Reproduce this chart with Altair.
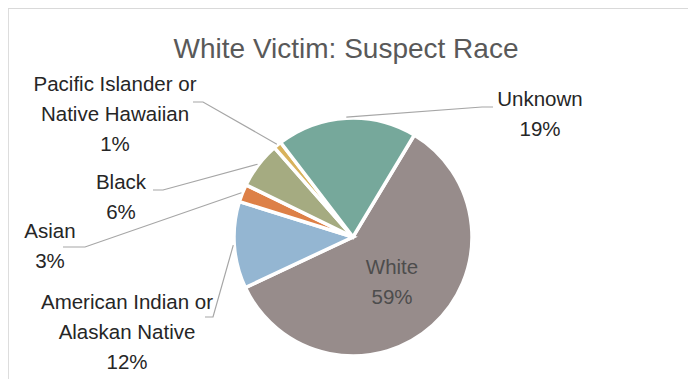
import altair as alt
import pandas as pd
import numpy as np

# ---- data ----
categories = ["White", "American Indian or Alaskan Native", "Asian", "Black",
              "Pacific Islander or Native Hawaiian", "Unknown"]
values = [59.4, 11.8, 2.4, 6.3, 1.1, 19.0]
pct_labels = ["59%", "12%", "3%", "6%", "1%", "19%"]
label_lines = ["White", "American Indian or\nAlaskan Native", "Asian", "Black",
               "Pacific Islander or\nNative Hawaiian", "Unknown"]
colors = ["#978C8B", "#94B6D2", "#DD8047", "#A5AB81", "#D8B25C", "#76A89B"]

# ---- layout ----
W, H = 680, 371
CX, CY, R = 345, 229, 119
START = np.deg2rad(31.0)
FONT = "Liberation Sans, Arial, sans-serif"

# label anchor (centre of first text line) and leader elbow, in chart px
label_pos = {
    "White": (384, 260),
    "American Indian or Alaskan Native": (119, 295),
    "Asian": (42, 224),
    "Black": (113, 175),
    "Pacific Islander or Native Hawaiian": (107, 77),
    "Unknown": (532, 92),
}
elbow = {
    "American Indian or Alaskan Native": [(197, 309), (205, 309)],
    "Asian": [(55, 239), (77, 239)],
    "Black": [(145, 182), (155, 182)],
    "Pacific Islander or Native Hawaiian": [(185, 94), (195, 94)],
    "Unknown": [(485, 99), (474, 99)],
}

df = pd.DataFrame({"cat": categories, "value": values, "order": range(len(categories))})

tot = sum(values)
cum = np.cumsum([0] + values[:-1])
mid = START + 2 * np.pi * (cum + np.array(values) / 2) / tot

# text table
txt_rows = []
for i, c in enumerate(categories):
    x, y = label_pos[c]
    txt_rows.append({"cat": c, "text": label_lines[i] + "\n" + pct_labels[i],
                     "x": x, "y": y, "inside": c == "White"})
tdf = pd.DataFrame(txt_rows)

# leader lines
lrows = []
for i, c in enumerate(categories):
    if c not in elbow:
        continue
    pts = list(elbow[c]) + [(CX + (R + 1) * np.sin(mid[i]), CY - (R + 1) * np.cos(mid[i]))]
    for k, (x, y) in enumerate(pts):
        lrows.append({"cat": c, "k": k, "x": x, "y": y})
ldf = pd.DataFrame(lrows)

color_scale = alt.Scale(domain=categories, range=colors)

pie = alt.Chart(df).mark_arc(stroke="white", strokeWidth=3.5, radius=R).encode(
    theta=alt.Theta("value:Q", stack=True,
                    scale=alt.Scale(domain=[0, tot], range=[START, START + 2 * np.pi])),
    color=alt.Color("cat:N", scale=color_scale, legend=None),
    order=alt.Order("order:Q"),
    x=alt.value(CX), y=alt.value(CY),
)

leaders = alt.Chart(ldf).mark_line(color="#A6A6A6", strokeWidth=1.2).encode(
    x=alt.X("x:Q", scale=None), y=alt.Y("y:Q", scale=None),
    detail="cat:N", order="k:Q",
)

labels_out = alt.Chart(tdf[~tdf["inside"]]).mark_text(
    font=FONT, fontSize=20.5, lineBreak="\n", lineHeight=30, color="#262626",
    align="center", baseline="middle",
).encode(x=alt.X("x:Q", scale=None), y=alt.Y("y:Q", scale=None), text="text:N")

labels_in = alt.Chart(tdf[tdf["inside"]]).mark_text(
    font=FONT, fontSize=20.5, lineBreak="\n", lineHeight=30, color="#4D4D4D",
    align="center", baseline="middle",
).encode(x=alt.X("x:Q", scale=None), y=alt.Y("y:Q", scale=None), text="text:N")

title = alt.Chart(pd.DataFrame({"t": ["White Victim: Suspect Race"]})).mark_text(
    font=FONT, fontSize=28, color="#595959", align="center", baseline="alphabetic",
).encode(x=alt.value(338), y=alt.value(50), text="t:N")

border = alt.Chart(pd.DataFrame({"a": [0]})).mark_rule(color="#D9D9D9", strokeWidth=1).encode(
    x=alt.value(-1), x2=alt.value(W), y=alt.value(0.5))
border_l = alt.Chart(pd.DataFrame({"a": [0]})).mark_rule(color="#D9D9D9", strokeWidth=1).encode(
    x=alt.value(-1.5), y=alt.value(0), y2=alt.value(H))

chart = alt.layer(border, border_l, pie, leaders, labels_out, labels_in, title).properties(
    width=W, height=H, padding=0, autosize=alt.AutoSizeParams(type="none"),
).configure_view(stroke=None).configure(background="white")

chart.save("out.html", embed_options={"renderer": "svg", "actions": False})
